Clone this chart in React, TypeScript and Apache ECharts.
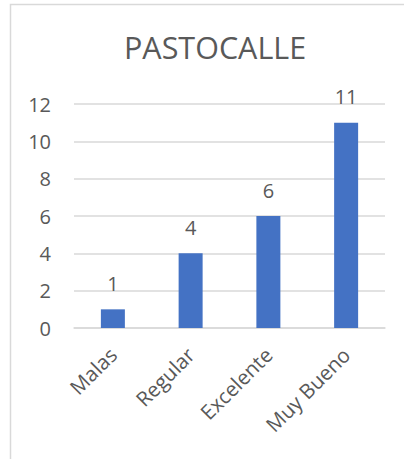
import React, { useEffect, useRef } from "react";
import * as echarts from "echarts";

const categories = ["Malas", "Regular", "Excelente", "Muy Bueno"];
const values = [1, 4, 6, 11];
const titleText = "PASTOCALLE";

const FONT = "'Open Sans', 'Noto Sans', sans-serif";
const TEXT = "#595959";

export default function App() {
  const ref = useRef<HTMLDivElement>(null);
  useEffect(() => {
    if (!ref.current) return;
    const chart = echarts.init(ref.current, undefined, { renderer: "svg" });
    chart.setOption({
      animation: false,
      backgroundColor: "#ffffff",
      title: {
        text: titleText,
        left: 119,
        top: 26,
        textStyle: { fontFamily: FONT, fontSize: 30.5, fontWeight: "normal", color: TEXT },
      },
      graphic: [
        {
          type: "rect",
          shape: { x: 10.5, y: 4.5, width: 600, height: 600 },
          style: { fill: "none", stroke: "#D9D9D9", lineWidth: 1.5 },
          silent: true,
        },
      ],
      grid: { left: 74, right: 19, top: 104, bottom: 131 },
      xAxis: {
        type: "category",
        data: categories,
        axisLine: { show: true, lineStyle: { color: "#D9D9D9", width: 1.5 } },
        axisTick: { show: false },
        axisLabel: {
          rotate: 45,
          margin: 23,
          fontFamily: FONT,
          fontSize: 20.5,
          color: TEXT,
          interval: 0,
        },
      },
      yAxis: {
        type: "value",
        min: 0,
        max: 12,
        interval: 2,
        axisLine: { show: false },
        axisTick: { show: false },
        splitLine: { lineStyle: { color: "#D9D9D9", width: 1.5 } },
        axisLabel: { margin: 23, fontFamily: FONT, fontSize: 20, color: TEXT },
      },
      series: [
        {
          type: "bar",
          data: values,
          barWidth: 24,
          itemStyle: { color: "#4472C4" },
          label: {
            show: true,
            position: "top",
            distance: 16,
            fontFamily: FONT,
            fontSize: 20,
            color: TEXT,
          },
        },
      ],
    });
    return () => chart.dispose();
  }, []);
  return (
    <div
      ref={ref}
      style={{ position: "absolute", left: 0, top: 0, width: 404, height: 459 }}
    />
  );
}
